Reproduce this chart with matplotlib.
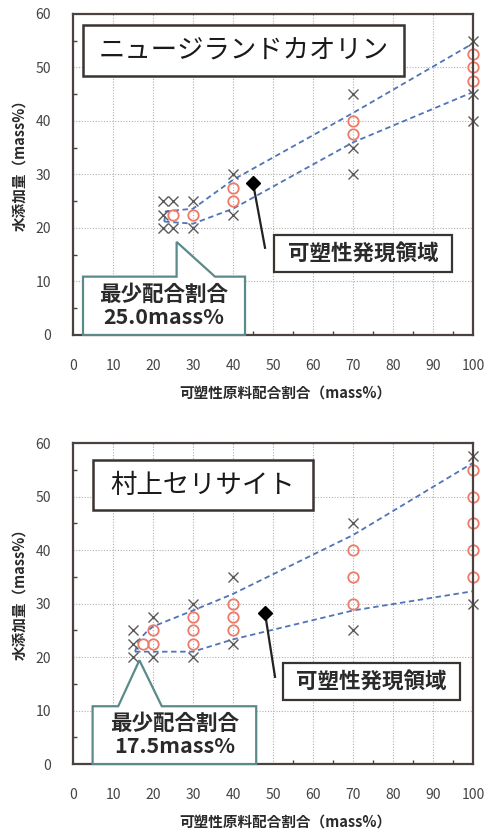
"""Water addition vs. plastic raw material ratio for two clays."""
import matplotlib.pyplot as plt
from matplotlib.patches import Polygon, Rectangle
from matplotlib.ticker import MultipleLocator

plt.rcParams["font.family"] = ["Noto Sans CJK JP", "DejaVu Sans"]

X_LABEL = "可塑性原料配合割合（mass%）"
Y_LABEL = "水添加量（mass%）"
REGION_LABEL = "可塑性発現領域"
MIN_LABEL = "最少配合割合"

# New Zealand kaolin
KAOLIN_NAME = "ニュージランドカオリン"
KAOLIN_MIN = 25.0
KAOLIN_CROSS_X = [22.5, 22.5, 22.5, 25, 25, 30, 30, 40, 40, 70, 70, 70, 100, 100, 100]
KAOLIN_CROSS_Y = [25, 22.5, 20, 25, 20, 25, 20, 30, 22.5, 45, 35, 30, 55, 45, 40]
KAOLIN_CIRCLE_X = [25, 30, 40, 40, 70, 70, 100, 100, 100]
KAOLIN_CIRCLE_Y = [22.5, 22.5, 27.5, 25, 40, 37.5, 52.5, 50, 47.5]
KAOLIN_UPPER_X = [22.8, 23.2, 30, 40, 70, 100]
KAOLIN_UPPER_Y = [21.2, 23.1, 23.6, 29, 41.5, 54.5]
KAOLIN_LOWER_X = [22.8, 30, 40, 70, 100]
KAOLIN_LOWER_Y = [21.2, 20.8, 23.6, 36, 45.4]

# Murakami sericite
SERICITE_NAME = "村上セリサイト"
SERICITE_MIN = 17.5
SERICITE_CROSS_X = [15, 15, 15, 20, 20, 30, 30, 40, 40, 70, 70, 100, 100]
SERICITE_CROSS_Y = [25, 22.5, 20, 27.5, 20, 30, 20, 35, 22.5, 45, 25, 57.5, 30]
SERICITE_CIRCLE_X = [17.5, 20, 20, 30, 30, 30, 40, 40, 40, 70, 70, 70,
                     100, 100, 100, 100, 100]
SERICITE_CIRCLE_Y = [22.5, 25, 22.5, 27.5, 25, 22.5, 30, 27.5, 25, 40, 35, 30,
                     55, 50, 45, 40, 35]
SERICITE_UPPER_X = [15.5, 16.5, 18.5, 20, 30, 40, 70, 100]
SERICITE_UPPER_Y = [21, 23.2, 24.8, 25.7, 28.7, 31.8, 42.8, 56.3]
SERICITE_LOWER_X = [15.5, 20, 30, 40, 70, 100]
SERICITE_LOWER_Y = [21, 21, 21, 23.3, 28.7, 32.3]

FRAME = "#4a423e"
TEXT = "#2a2a2a"
CROSS = "#5a5a5a"
CIRCLE = "#ee7a68"
DASH = "#4f74b8"
TEAL = "#5a8a8a"


def draw_panel(ax, name, name_box, cross, circle, upper, lower,
               diamond, leader_end, region_box, min_value, callout):
    ax.set_xlim(0, 100)
    ax.set_ylim(0, 60)
    ax.xaxis.set_major_locator(MultipleLocator(10))
    ax.yaxis.set_major_locator(MultipleLocator(10))
    ax.xaxis.set_minor_locator(MultipleLocator(5))
    ax.yaxis.set_minor_locator(MultipleLocator(5))
    ax.tick_params(which="major", length=0, labelsize=10, labelcolor="#444444")
    ax.tick_params(axis="x", which="major", pad=17)
    ax.tick_params(axis="y", which="major", pad=16)
    ax.tick_params(which="minor", direction="in", length=3, width=1, color=FRAME)
    ax.grid(True, which="major", linestyle=(0, (1, 1.5)), color="#b0b0b0", linewidth=0.8)
    for spine in ax.spines.values():
        spine.set_color(FRAME)
        spine.set_linewidth(1.6)
        spine.set_zorder(6)
    ax.set_xlabel(X_LABEL, fontsize=10.5, fontweight="bold", color=TEXT)
    ax.set_ylabel(Y_LABEL, fontsize=10.5, fontweight="bold", color=TEXT)
    ax.xaxis.set_label_coords(0.53, -0.155)
    ax.yaxis.set_label_coords(-0.115, 0.54)

    ax.plot(upper[0], upper[1], linestyle=(0, (3, 2)), color=DASH, linewidth=1.3, zorder=3)
    ax.plot(lower[0], lower[1], linestyle=(0, (3, 2)), color=DASH, linewidth=1.3, zorder=3)
    ax.plot(cross[0], cross[1], linestyle="none", marker="x", markersize=7,
            markeredgewidth=1.0, color=CROSS, zorder=4, clip_on=False)
    ax.plot(circle[0], circle[1], linestyle="none", marker="o", markersize=7.5,
            markerfacecolor="none", markeredgewidth=1.3, markeredgecolor=CIRCLE,
            zorder=5, clip_on=False)

    # material name box
    x0, y0, x1, y1 = name_box
    ax.add_patch(Rectangle((x0, y0), x1 - x0, y1 - y0, facecolor="white",
                           edgecolor="#3a3431", linewidth=1.8, zorder=7))
    ax.text((x0 + x1) / 2, (y0 + y1) / 2, name, fontsize=19, color="#1a1a1a",
            ha="center", va="center", zorder=8)

    # plasticity region label with leader
    ax.plot([diamond[0], leader_end[0]], [diamond[1], leader_end[1]],
            color="#222222", linewidth=1.6, zorder=7)
    ax.plot([diamond[0]], [diamond[1]], marker="D", markersize=7, color="black", zorder=8)
    x0, y0, x1, y1 = region_box
    ax.add_patch(Rectangle((x0, y0), x1 - x0, y1 - y0, facecolor="white",
                           edgecolor="#3a3431", linewidth=1.6, zorder=7))
    ax.text((x0 + x1) / 2, (y0 + y1) / 2, REGION_LABEL, fontsize=15.5,
            fontweight="bold", color=TEXT, ha="center", va="center", zorder=8)

    # minimum blending ratio callout
    bx0, bx1, btop, tip, base_l, base_r = callout
    pts = [(bx0, 0), (bx0, btop), (base_l, btop), tip, (base_r, btop),
           (bx1, btop), (bx1, 0)]
    ax.add_patch(Polygon(pts, closed=True, facecolor="white", edgecolor=TEAL,
                         linewidth=1.6, zorder=7, clip_on=False))
    ax.text((bx0 + bx1) / 2, btop * 0.5, f"{MIN_LABEL}\n{min_value:.1f}mass%",
            fontsize=15.5, fontweight="bold", color=TEXT, ha="center",
            va="center", linespacing=1.15, zorder=8)


def main():
    fig = plt.figure(figsize=(4.88, 8.32), dpi=100)
    ax_top = fig.add_axes([0.1496, 0.5974, 0.8197, 0.3858])
    ax_bottom = fig.add_axes([0.1496, 0.0817, 0.8197, 0.3858])

    draw_panel(
        ax_top, KAOLIN_NAME, (2.6, 48.4, 82.8, 57.9),
        (KAOLIN_CROSS_X, KAOLIN_CROSS_Y), (KAOLIN_CIRCLE_X, KAOLIN_CIRCLE_Y),
        (KAOLIN_UPPER_X, KAOLIN_UPPER_Y), (KAOLIN_LOWER_X, KAOLIN_LOWER_Y),
        (45, 28.4), (48, 16.3), (50.3, 11.8, 94.8, 18.7),
        KAOLIN_MIN, (2.5, 43, 10.9, (25.9, 17.4), 25.9, 35.5),
    )
    draw_panel(
        ax_bottom, SERICITE_NAME, (4.9, 47.4, 60, 56.8),
        (SERICITE_CROSS_X, SERICITE_CROSS_Y), (SERICITE_CIRCLE_X, SERICITE_CIRCLE_Y),
        (SERICITE_UPPER_X, SERICITE_UPPER_Y), (SERICITE_LOWER_X, SERICITE_LOWER_Y),
        (48, 28.2), (50.5, 16.3), (52.5, 12, 96.8, 18.9),
        SERICITE_MIN, (4.9, 45.8, 10.8, (16.6, 19.4), 11.3, 22.2),
    )

    fig.savefig("out.png", dpi=100)


if __name__ == "__main__":
    main()
